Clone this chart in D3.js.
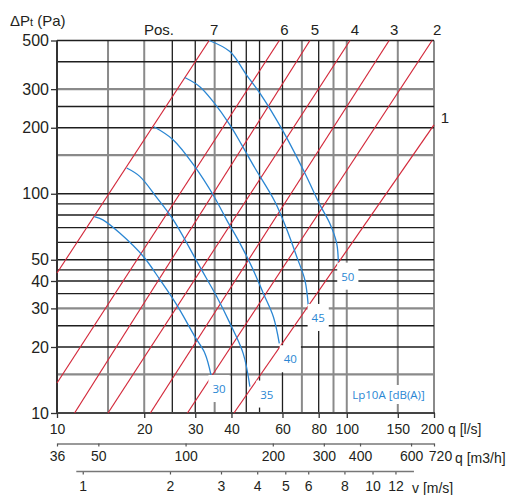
<!DOCTYPE html>
<html>
<head>
<meta charset="utf-8">
<script src="https://cdn.jsdelivr.net/npm/d3@7"></script>
<style>
  body { margin: 0; background: #fff; }
  text { font-family: "Liberation Sans", Arial, sans-serif; fill: #231f20; }
  .blue-label { font-family: "Open Sans", "Noto Sans", sans-serif; fill: #2a86d3; font-size: 11.5px; }
</style>
</head>
<body>
<div id="chart"></div>
<script>
// grid values
var qGrid = [15, 20, 25, 30, 35, 40, 45, 50, 60, 70, 80, 90, 100, 150, 200];
var qGridGray = [15, 20, 35, 70, 90, 100, 150, 200];
var pGrid = [15, 20, 25, 30, 35, 40, 45, 50, 60, 70, 80, 90, 100, 150, 200, 250, 300, 400, 500];
var pGridGray = [15, 30, 150, 300];

// axis ticks
var pTicks = [10, 20, 30, 40, 50, 100, 200, 300, 500];
var qTicks = [10, 20, 30, 40, 60, 80, 100, 150, 200];
var m3hTicks = [36, 50, 100, 200, 300, 400, 600, 720];
var vTicks = [1, 2, 3, 4, 5, 6, 8, 10, 12];
var vRange = [0.95, 13.9];
var lsPerMs = 12.27; // l/s for 1 m/s (duct 125)

// damper positions: [q l/s, dPt Pa] end points
var posNames = ["1", "2", "3", "4", "5", "6", "7"];
var posLines = [
  [[40.8, 10], [200, 206]],
  [[28.2, 10], [197, 500]],
  [[21, 10], [140, 500]],
  [[15, 10], [102.6, 500]],
  [[11.5, 10], [74.6, 500]],
  [[10, 13.7], [58.5, 500]],
  [[10, 43.5], [33.5, 500]]
];

// sound level curves Lp10A dB(A)
var soundLevels = [30, 35, 40, 45, 50];
var sound30 = [[13.45, 78.6], [14.4, 76], [16.5, 66], [19.9, 51.6], [22.7, 40.4], [25.9, 31.1], [29.9, 22.3], [32.4, 18.7], [34.0, 14.9]];
var sound35 = [[17.4, 131], [19.3, 120], [22.1, 96], [25.2, 76], [31.1, 46.5], [35.6, 33.9], [39.5, 25.7], [43.9, 18.7], [46.3, 13.2]];
var sound40 = [[21.6, 202], [25.2, 176], [29.9, 133], [34.6, 98.7], [38.5, 76], [42.8, 59.4], [47.0, 46.5], [51.5, 35.2], [55.8, 27.5], [58.5, 20.8]];
var sound45 = [[27.6, 339], [31.1, 308], [34.6, 263], [39.5, 206], [43.4, 167], [48.2, 131], [56.5, 92], [62.0, 69], [67.2, 51.6], [71.7, 40.4], [73.6, 31.1]];
var sound50 = [[33.5, 500], [39.5, 445], [45.1, 348], [50.2, 287], [60.4, 192], [71.7, 124], [80.8, 89], [87.5, 73], [92.3, 59.4], [93.5, 49]];
var soundCurves = [sound30, sound35, sound40, sound45, sound50];

var width = 510, height = 495;
var plotLeft = 57, plotRight = 434, plotTop = 40.5, plotBottom = 413;
var red = "#d3283a", blue = "#2a86d3";

var svg = d3.select("#chart").append("svg")
  .attr("width", width)
  .attr("height", height);

var x = d3.scaleLog().domain([10, 200]).range([plotLeft, plotRight]);
var y = d3.scaleLog().domain([10, 500]).range([plotBottom, plotTop]);

// grid, gray first then black on top
var grid = svg.append("g").attr("class", "grid");
function isGray(list, v) { return list.indexOf(v) >= 0; }

grid.selectAll("line.vg")
  .data(qGrid.filter(function (d) { return isGray(qGridGray, d); }))
  .enter().append("line")
  .attr("x1", x).attr("x2", x).attr("y1", plotTop).attr("y2", plotBottom)
  .attr("stroke", "#8a8a8a").attr("stroke-width", 2);
grid.selectAll("line.hg")
  .data(pGrid.filter(function (d) { return isGray(pGridGray, d); }))
  .enter().append("line")
  .attr("y1", y).attr("y2", y).attr("x1", plotLeft).attr("x2", plotRight)
  .attr("stroke", "#8a8a8a").attr("stroke-width", 2.2);
grid.selectAll("line.vb")
  .data(qGrid.filter(function (d) { return !isGray(qGridGray, d); }))
  .enter().append("line")
  .attr("x1", x).attr("x2", x).attr("y1", plotTop).attr("y2", plotBottom)
  .attr("stroke", "#1e1e1e").attr("stroke-width", 1.3);
grid.selectAll("line.hb")
  .data(pGrid.filter(function (d) { return !isGray(pGridGray, d); }))
  .enter().append("line")
  .attr("y1", y).attr("y2", y).attr("x1", plotLeft).attr("x2", plotRight)
  .attr("stroke", "#1e1e1e").attr("stroke-width", 1.3);

// frame axes
svg.append("line").attr("x1", plotLeft).attr("x2", plotLeft).attr("y1", plotTop).attr("y2", plotBottom)
  .attr("stroke", "#333").attr("stroke-width", 2);
svg.append("line").attr("x1", plotLeft - 1).attr("x2", plotRight + 1).attr("y1", plotBottom).attr("y2", plotBottom)
  .attr("stroke", "#444").attr("stroke-width", 2);

// damper position lines
var line = d3.line().x(function (d) { return x(d[0]); }).y(function (d) { return y(d[1]); });

svg.append("g").selectAll("path")
  .data(posLines)
  .enter().append("path")
  .attr("d", line)
  .attr("fill", "none")
  .attr("stroke", red)
  .attr("stroke-width", 1.2);

svg.append("g").selectAll("text")
  .data(posLines)
  .enter().append("text")
  .attr("font-size", "15px")
  .attr("text-anchor", "middle")
  .attr("x", function (d) {
    var end = d[d.length - 1];
    return end[1] >= 500 ? x(end[0]) + 5 : x(end[0]) + 11;
  })
  .attr("y", function (d) {
    var end = d[d.length - 1];
    return end[1] >= 500 ? 35 : y(end[1]) - 2;
  })
  .text(function (d, i) { return posNames[i]; });

svg.append("text").attr("x", 144).attr("y", 35).attr("font-size", "15px").text("Pos.");

// sound curves
var curve = d3.line()
  .x(function (d) { return x(d[0]); })
  .y(function (d) { return y(d[1]); })
  .curve(d3.curveCatmullRom.alpha(0.5));

svg.append("g").selectAll("path")
  .data(soundCurves)
  .enter().append("path")
  .attr("d", curve)
  .attr("fill", "none")
  .attr("stroke", blue)
  .attr("stroke-width", 1.3);

// labels for sound curves, placed below the end of each curve
var labelOffsets = [[8, 14], [17, 8], [11, 16], [10, 13], [9.5, 15]];
var labels = svg.append("g");
soundCurves.forEach(function (c, i) {
  var end = c[c.length - 1];
  var cx = x(end[0]) + labelOffsets[i][0];
  var cy = y(end[1]) + labelOffsets[i][1];
  var g = labels.append("g");
  var rect = g.append("rect").attr("fill", "#fff");
  var t = g.append("text").attr("class", "blue-label")
    .attr("x", cx).attr("y", cy + 4)
    .attr("text-anchor", "middle")
    .text(soundLevels[i]);
  var b = t.node().getBBox();
  rect.attr("x", b.x - 4).attr("y", b.y - 6).attr("width", b.width + 8).attr("height", b.height + 12);
});

var lpG = svg.append("g");
var lpRect = lpG.append("rect").attr("fill", "#fff");
var lpText = lpG.append("text").attr("class", "blue-label")
  .attr("x", 388.5).attr("y", 399).attr("text-anchor", "middle")
  .text("Lp10A [dB(A)]");
var lb = lpText.node().getBBox();
lpRect.attr("x", lb.x - 3).attr("y", lb.y - 2).attr("width", lb.width + 6).attr("height", lb.height + 4);

// y axis
var yAxis = svg.append("g")
  .attr("transform", "translate(" + plotLeft + ",0)")
  .call(d3.axisLeft(y).tickValues(pTicks).tickFormat(d3.format("d")).tickSize(6).tickPadding(2));
yAxis.select(".domain").remove();
yAxis.selectAll(".tick line").attr("stroke", "#333").attr("stroke-width", 1.3);
yAxis.selectAll(".tick text").attr("font-size", "16px").attr("font-family", null).attr("fill", "#231f20");

// q [l/s] axis
var xAxis = svg.append("g")
  .attr("transform", "translate(0," + plotBottom + ")")
  .call(d3.axisBottom(x).tickValues(qTicks).tickFormat(d3.format("d")).tickSize(5).tickPadding(6));
xAxis.select(".domain").remove();
xAxis.selectAll(".tick line").attr("stroke", "#333").attr("stroke-width", 1.3);
xAxis.selectAll(".tick text").attr("font-size", "14px").attr("font-family", null).attr("fill", "#231f20")
  .attr("dx", function (d) { return d === 200 ? -2 : 0; });
svg.append("text").attr("x", 448).attr("y", 434).attr("font-size", "14px").text("q [l/s]");

// q [m3/h] axis
var xm = d3.scaleLog().domain([36, 720]).range([plotLeft, plotRight]);
var mAxis = svg.append("g")
  .attr("transform", "translate(0,443.5)")
  .call(d3.axisBottom(xm).tickValues(m3hTicks).tickFormat(d3.format("d")).tickSizeInner(3).tickSizeOuter(0).tickPadding(5));
mAxis.select(".domain").attr("stroke", "#777").attr("stroke-width", 1.6);
mAxis.selectAll(".tick line").attr("stroke", "#555").attr("stroke-width", 1.2);
mAxis.selectAll(".tick text").attr("font-size", "14px").attr("font-family", null).attr("fill", "#231f20")
  .attr("dx", function (d) { return d === 720 ? 6 : 0; });
svg.append("text").attr("x", 455).attr("y", 462.5).attr("font-size", "14px").text("q [m3/h]");

// v [m/s] axis
var xv = d3.scaleLog().domain([10 / lsPerMs, 200 / lsPerMs]).range([plotLeft, plotRight]);
var vAxis = svg.append("g")
  .attr("transform", "translate(0,471.5)")
  .call(d3.axisBottom(xv).tickValues(vTicks).tickFormat(d3.format("d")).tickSizeInner(3).tickSizeOuter(0).tickPadding(7));
vAxis.select(".domain").remove();
vAxis.append("line")
  .attr("x1", xv(vRange[0])).attr("x2", xv(vRange[1]))
  .attr("stroke", "#777").attr("stroke-width", 1.6);
vAxis.selectAll(".tick line").attr("stroke", "#555").attr("stroke-width", 1.2);
vAxis.selectAll(".tick text").attr("font-size", "14px").attr("font-family", null).attr("fill", "#231f20");
svg.append("text").attr("x", 412).attr("y", 493).attr("font-size", "14px").text("v [m/s]");

// y title
var yt = svg.append("text").attr("x", 10).attr("y", 26).attr("font-size", "15px");
yt.append("tspan").text("\u0394P");
yt.append("tspan").attr("font-size", "11px").text("t");
yt.append("tspan").text(" (Pa)");
</script>
</body>
</html>
